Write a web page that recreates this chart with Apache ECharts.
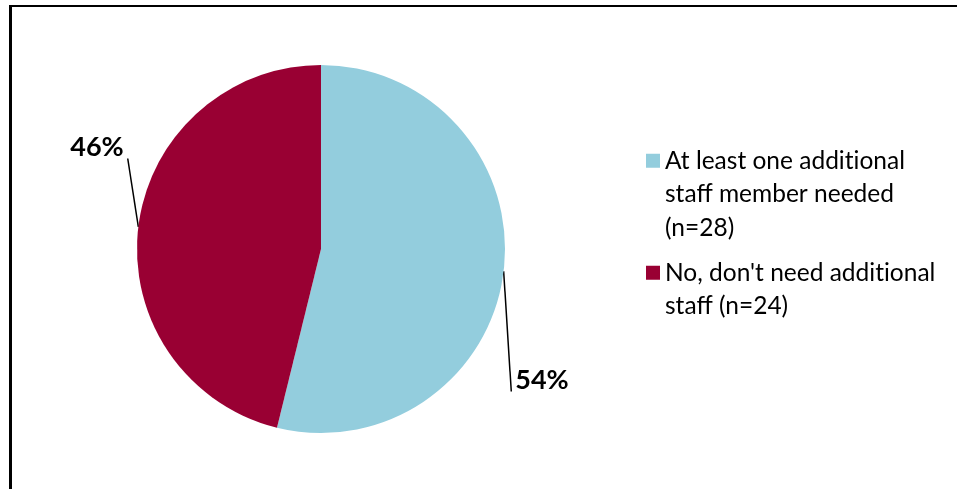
<!DOCTYPE html>
<html>
<head>
<meta charset="utf-8">
<script src="https://cdn.jsdelivr.net/npm/echarts@6/dist/echarts.min.js"></script>
<style>
  html, body { margin: 0; padding: 0; background: #fff; }
  #chart { width: 957px; height: 489px; }
</style>
</head>
<body>
<div id="chart"></div>
<script>
// Survey responses: does the team need additional staff?
const categories = [
  'At least one additional\nstaff member needed\n(n=28)',
  "No, don't need additional\nstaff (n=24)"
];
const counts = [28, 24];
const colors = ['#93CDDD', '#990033'];

// Where each percentage label sits (label centre, px)
const labelSpots = [[542, 380], [97, 147]];

const FONT = 'Lato, "Open Sans", sans-serif';
const LINE_H = 33.5;

const chart = echarts.init(document.getElementById('chart'), null, { renderer: 'canvas' });

const total = counts.reduce((a, b) => a + b, 0);

chart.setOption({
  animation: false,
  backgroundColor: '#ffffff',
  color: colors,
  legend: {
    orient: 'vertical',
    left: 646,
    top: 77,
    padding: 0,
    itemWidth: 14,
    itemHeight: 14,
    itemGap: -22,
    icon: 'rect',
    selectedMode: false,
    data: categories,
    textStyle: {
      fontFamily: FONT,
      fontSize: 24.5,
      color: '#000',
      lineHeight: LINE_H
    },
    // Legend text is centred on its swatch; lead with blank lines so the
    // swatch sits level with the first line of a multi-line label.
    // A zero-width non-joiner keeps Lato from fusing "ti" into a ligature.
    formatter: function (name) {
      const extra = name.split('\n').length - 1;
      return '\n'.repeat(extra) + name.replace(/ti/g, 't\u200Ci');
    }
  },
  series: [{
    type: 'pie',
    center: [321, 249],
    radius: [0, 184],
    startAngle: 90,
    clockwise: true,
    avoidLabelOverlap: false,
    silent: true,
    itemStyle: { borderWidth: 0 },
    label: {
      show: true,
      position: 'outside',
      formatter: function (p) { return Math.round(p.value / total * 100) + '%'; },
      fontFamily: FONT,
      fontWeight: 'bold',
      fontSize: 27,
      color: '#000'
    },
    labelLine: {
      show: true,
      length: 10,
      length2: 0,
      smooth: false,
      lineStyle: { color: '#000', width: 1.5 }
    },
    labelLayout: function (params) {
      const spot = labelSpots[params.dataIndex];
      const edge = params.labelLinePoints[0];
      const w = params.labelRect.width;
      const h = params.labelRect.height;
      // leader runs from the slice edge to the label's nearer corner
      let end;
      if (params.dataIndex === 0) {
        end = [spot[0] - w / 2 - 4, spot[1] + h / 2 - 2];
      } else {
        end = [spot[0] + w / 2 + 4, spot[1] + h / 2 - 2];
      }
      return {
        x: spot[0],
        y: spot[1],
        align: 'center',
        verticalAlign: 'middle',
        labelLinePoints: [edge, end, end]
      };
    },
    data: categories.map((name, i) => ({ name: name, value: counts[i] }))
  }],
  graphic: [
    { type: 'line', shape: { x1: 10.5, y1: 5, x2: 10.5, y2: 489 }, style: { stroke: '#000', lineWidth: 3 } },
    { type: 'line', shape: { x1: 9, y1: 6, x2: 957, y2: 6 }, style: { stroke: '#000', lineWidth: 2 } }
  ]
});
</script>
</body>
</html>
